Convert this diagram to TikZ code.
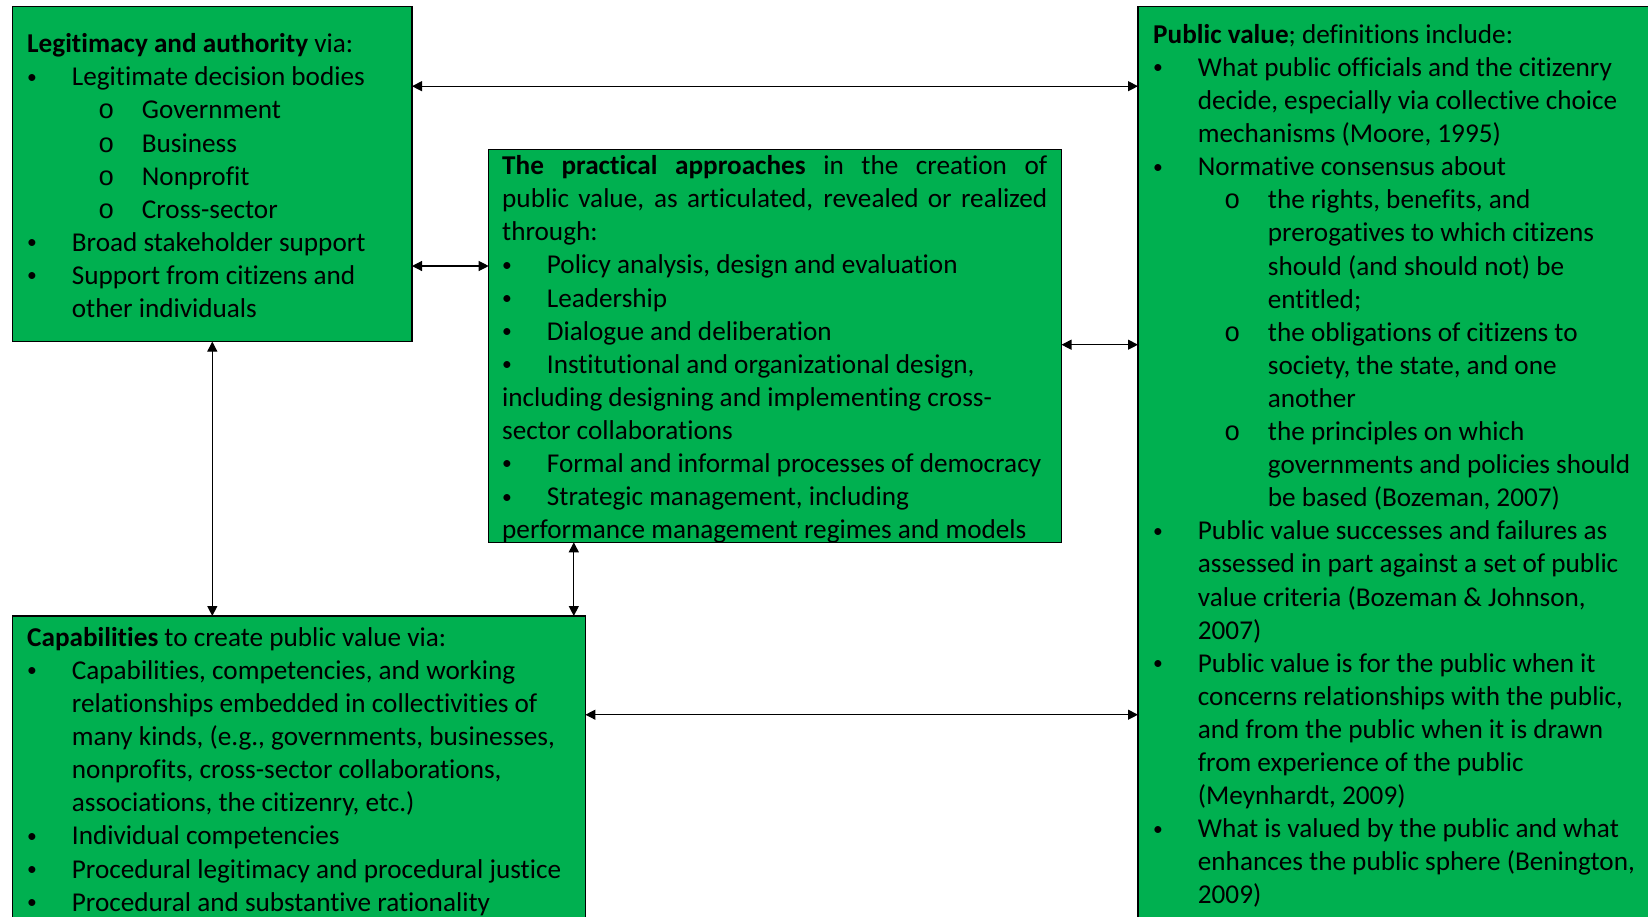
\documentclass[tikz,border=0pt]{standalone}
\usepackage{fontspec}
\setmainfont[Ligatures=NoCommon]{Carlito}
\newfontfamily\circfont{Liberation Mono}
\usetikzlibrary{arrows.meta}

\definecolor{boxgreen}{HTML}{00B050}

\newcommand{\dotmark}{\raisebox{2.6pt}{\scalebox{0.72}{\textbullet}}}
\newcommand{\itm}{\makebox[44.7pt][l]{\dotmark}}
\newcommand{\subitm}{\hspace*{71pt}\makebox[43.7pt][l]{\circfont o}}
\newcommand{\cont}{\hspace*{44.7pt}}
\newcommand{\subcont}{\hspace*{114.7pt}}

\begin{document}
\begin{tikzpicture}[x=1pt,y=-1pt,
  box/.style={draw=black, line width=1.2pt, fill=boxgreen, inner sep=0pt, outer sep=0pt, anchor=north west},
  txt/.style={anchor=north west, align=left, inner sep=0pt, font=\fontsize{27.2}{33.1}\selectfont},
  link/.style={line width=1.2pt, {Triangle[length=10pt,width=10pt]}-{Triangle[length=10pt,width=10pt]}}]
  \useasboundingbox (0,0) rectangle (1648,916);
  \clip (0,0) rectangle (1648,916);
  % boxes
  \node[box, minimum width=399.4pt, minimum height=335.3pt] (legit) at (12.6,6.3) {};
  \node[box, minimum width=572.8pt, minimum height=393.1pt] (approach) at (488.7,149.2) {};
  \node[box, minimum width=560pt, minimum height=960pt] (pv) at (1138,6.3) {};
  \node[box, minimum width=572.8pt, minimum height=360pt] (capab) at (12.6,616) {};
  % texts
  \node[txt] (legittxt) at (27,29.4) {\strut\textbf{Legitimacy and authority} via:\\
    \itm Legitimate decision bodies\\
    \subitm Government\\
    \subitm Business\\
    \subitm Nonprofit\\
    \subitm Cross-sector\\
    \itm Broad stakeholder support\\
    \itm Support from citizens and\\
    \cont other individuals};
  \node[txt] (approachtxt) at (502,151.3) {\strut\makebox[545pt][s]{\textbf{The practical approaches} in the creation of}\\
    \makebox[545pt][s]{public value, as articulated, revealed or realized}\\
    through:\\
    \itm Policy analysis, design and evaluation\\
    \itm Leadership\\
    \itm Dialogue and deliberation\\
    \itm Institutional and organizational design,\\
    including designing and implementing cross-\\
    sector collaborations\\
    \itm Formal and informal processes of democracy\\
    \itm Strategic management, including\\
    performance management regimes and models};
  \node[txt] (pvtxt) at (1153,20) {\strut\textbf{Public value}; definitions include:\\
    \itm What public officials and the citizenry\\
    \cont decide, especially via collective choice\\
    \cont mechanisms (Moore, 1995)\\
    \itm Normative consensus about\\
    \subitm the rights, benefits, and\\
    \subcont prerogatives to which citizens\\
    \subcont should (and should not) be\\
    \subcont entitled;\\
    \subitm the obligations of citizens to\\
    \subcont society, the state, and one\\
    \subcont another\\
    \subitm the principles on which\\
    \subcont governments and policies should\\
    \subcont be based (Bozeman, 2007)\\
    \itm Public value successes and failures as\\
    \cont assessed in part against a set of public\\
    \cont value criteria (Bozeman \& Johnson,\\
    \cont 2007)\\
    \itm Public value is for the public when it\\
    \cont concerns relationships with the public,\\
    \cont and from the public when it is drawn\\
    \cont from experience of the public\\
    \cont (Meynhardt, 2009)\\
    \itm What is valued by the public and what\\
    \cont enhances the public sphere (Benington,\\
    \cont 2009)};
  \node[txt] (capabtxt) at (27,623) {\strut\textbf{Capabilities} to create public value via:\\
    \itm Capabilities, competencies, and working\\
    \cont relationships embedded in collectivities of\\
    \cont many kinds, (e.g., governments, businesses,\\
    \cont nonprofits, cross-sector collaborations,\\
    \cont associations, the citizenry, etc.)\\
    \itm Individual competencies\\
    \itm Procedural legitimacy and procedural justice\\
    \itm Procedural and substantive rationality};
  % connectors
  \coordinate (rowa) at (0,86.2);
  \coordinate (rowb) at (0,266);
  \coordinate (rowc) at (0,344.7);
  \coordinate (rowd) at (0,714.7);
  \coordinate (cola) at (212.3,0);
  \coordinate (colb) at (573.8,0);
  \draw[link] (legit.east |- rowa) -- (pv.west |- rowa);
  \draw[link] (legit.east |- rowb) -- (approach.west |- rowb);
  \draw[link] (approach.east |- rowc) -- (pv.west |- rowc);
  \draw[link] (capab.east |- rowd) -- (pv.west |- rowd);
  \draw[link] (legit.south -| cola) -- (capab.north -| cola);
  \draw[link] (approach.south -| colb) -- (capab.north -| colb);
\end{tikzpicture}
\end{document}
